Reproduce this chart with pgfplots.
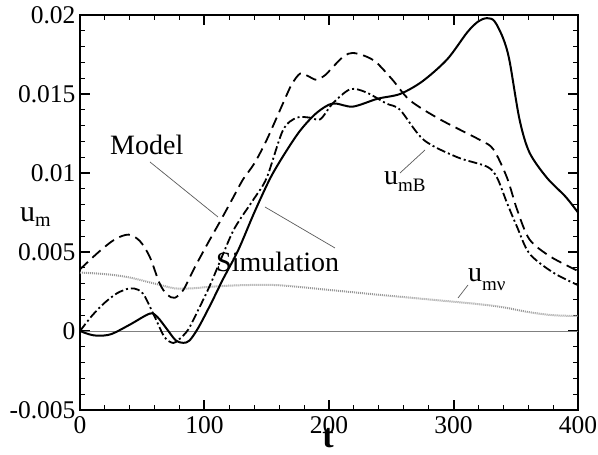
\documentclass[border=0pt]{standalone}
\usepackage{fontspec}
\setmainfont{Liberation Serif}
\usepackage{pgfplots}
\pgfplotsset{compat=1.18}
\begin{document}
\begin{tikzpicture}
\begin{axis}[
  at={(80pt,45pt)}, anchor=south west,
  scale only axis, width=498pt, height=395pt,
  xmin=0, xmax=400, ymin=-0.005, ymax=0.02,
  xtick={0,100,200,300,400},
  ytick={-0.005,0,0.005,0.01,0.015,0.02},
  yticklabels={-0.005,0,0.005,0.01,0.015,0.02},
  xticklabels={0,100,200,300,400},
  scaled y ticks=false,
  minor x tick num=4, minor y tick num=4,
  tick align=inside,
  tickwidth=10pt, subtickwidth=5pt,
  tick style={line width=2pt, black},
  minor tick style={line width=1pt, black},
  axis line style={line width=2.2pt},
  ticklabel style={font=\fontsize{25.5}{30}\selectfont},
  xticklabel style={yshift=-3pt},
  yticklabel style={xshift=-1pt},
  clip=false,
]
% tick marks (axis furniture)
\pgfplotsinvokeforeach{0,100,200,300,400}{
  \draw[line width=2pt] (axis cs:#1,-0.005) -- ++(0pt,10pt);
  \draw[line width=2pt] (axis cs:#1,0.02) -- ++(0pt,-10pt);
}
\pgfplotsinvokeforeach{20,40,60,80,120,140,160,180,220,240,260,280,320,340,360,380}{
  \draw[line width=1pt] (axis cs:#1,-0.005) -- ++(0pt,5pt);
  \draw[line width=1pt] (axis cs:#1,0.02) -- ++(0pt,-5pt);
}
\pgfplotsinvokeforeach{-0.005,0,0.005,0.01,0.015,0.02}{
  \draw[line width=2pt] (axis cs:0,#1) -- ++(10pt,0pt);
  \draw[line width=2pt] (axis cs:400,#1) -- ++(-10pt,0pt);
}
\pgfplotsinvokeforeach{-0.004,-0.003,-0.002,-0.001,0.001,0.002,0.003,0.004,0.006,0.007,0.008,0.009,0.011,0.012,0.013,0.014,0.016,0.017,0.018,0.019}{
  \draw[line width=1pt] (axis cs:0,#1) -- ++(5pt,0pt);
  \draw[line width=1pt] (axis cs:400,#1) -- ++(-5pt,0pt);
}
% zero line
\addplot[gray, line width=0.8pt] coordinates {(0,0) (400,0)};
% u_mv dotted
\addplot[gray!80, line width=2pt, dash pattern=on 1pt off 1pt, smooth] coordinates {
(0,0.0037) (20,0.0036) (39,0.0034) (60,0.0030) (76,0.0027) (90,0.0027) (105,0.0028) (130,0.0029) (159,0.0029) (200,0.0026) (239,0.0023) (280,0.0020) (320,0.0017) (340,0.0015) (360,0.0012) (380,0.0010) (400,0.00095)};
% Simulation solid
\addplot[black, line width=2pt, smooth] coordinates {
(0,0) (7,-0.0002) (14,-0.0003) (25,-0.0002) (40,0.0004) (56,0.0011) (62,0.0009) (70,0.0001) (77,-0.0006) (83,-0.00075) (88,-0.0006) (95,0.0002) (105,0.0017) (115,0.0033) (127,0.0051) (140,0.0075) (153,0.0097) (165,0.0113) (177,0.0127) (190,0.0138) (203,0.0144) (219,0.0142) (239,0.0147) (257,0.0150) (275,0.0158) (295,0.0172) (311,0.0189) (320,0.0196) (327,0.0198) (333,0.0196) (340,0.0185) (345,0.0171) (353,0.0134) (361,0.0113) (375,0.0097) (390,0.0085) (400,0.0075)};
% Model dashed
\addplot[black, line width=1.8pt, dash pattern=on 11pt off 6pt, smooth] coordinates {
(0,0.0039) (15,0.0050) (28,0.0058) (39,0.0061) (48,0.0057) (56,0.0047) (64,0.0030) (70,0.0023) (76,0.0021) (83,0.0026) (92,0.0040) (103,0.0056) (113,0.0070) (122,0.0083) (131,0.0096) (140,0.0106) (150,0.0121) (163,0.0144) (170,0.0156) (177,0.0163) (184,0.0161) (190,0.0159) (197,0.0162) (203,0.0167) (212,0.0174) (219,0.0176) (229,0.0174) (238,0.0170) (251,0.0159) (265,0.0146) (289,0.0134) (321,0.0121) (332,0.0115) (343,0.0097) (351,0.0077) (361,0.0058) (378,0.0047) (400,0.0038)};
% u_mB dash-dot
\addplot[black, line width=1.8pt, dash pattern=on 9pt off 3pt on 2pt off 3pt, smooth] coordinates {
(0,0) (10,0.0010) (20,0.0018) (30,0.0024) (40,0.0027) (47,0.0026) (52,0.0022) (60,0.0009) (68,-0.0004) (75,-0.00076) (80,-0.0005) (87,0.0001) (96,0.0015) (105,0.0030) (121,0.0060) (128,0.0070) (140,0.0084) (150,0.0097) (163,0.0127) (174,0.0135) (185,0.0135) (193,0.0134) (203,0.0144) (217,0.0153) (230,0.0151) (246,0.0144) (257,0.0140) (276,0.0121) (303,0.0110) (327,0.0104) (335,0.0097) (343,0.0081) (351,0.0066) (361,0.0049) (380,0.0037) (400,0.0029)};
\end{axis}
% leader lines
\draw[gray!70!black, line width=0.7pt] (150pt,293pt) -- (218pt,238pt);
\draw[gray!70!black, line width=0.7pt] (265pt,248pt) -- (335pt,207pt);
\draw[gray!70!black, line width=0.7pt] (400pt,282pt) -- (425pt,305pt);
\draw[gray!70!black, line width=0.7pt] (468pt,170pt) -- (458pt,157pt);
% annotations
\node[anchor=base west, inner sep=0pt, font=\fontsize{28}{32}\selectfont] at (110pt,300pt) {Model};
\node[anchor=base west, inner sep=0pt, font=\fontsize{28}{32}\selectfont] at (216pt,183pt) {Simulation};
\node[anchor=base west, inner sep=0pt, font=\fontsize{28}{32}\selectfont] at (384pt,270pt) {u\raisebox{-7pt}{\fontsize{19}{22}\selectfont mB}};
\node[anchor=base west, inner sep=0pt, font=\fontsize{28}{32}\selectfont] at (468pt,173pt) {u\raisebox{-9pt}{\fontsize{19}{22}\selectfont mν}};
% axis labels
\node[anchor=base, inner sep=0pt, font=\fontsize{34}{38}\selectfont\bfseries] at (328pt,7pt) {t};
\node[anchor=base west, inner sep=0pt, font=\fontsize{30}{34}\selectfont] at (20pt,233pt) {u\raisebox{-5pt}{\fontsize{20}{24}\selectfont m}};
\pgfresetboundingbox
\useasboundingbox (0pt,0pt) rectangle (598pt,455pt);
\end{tikzpicture}
\end{document}
